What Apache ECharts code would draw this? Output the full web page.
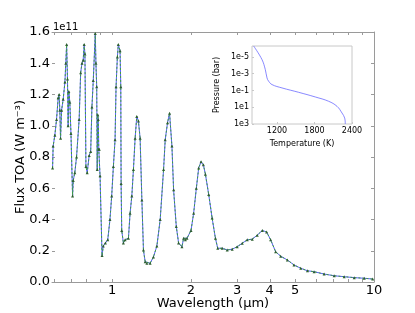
<!DOCTYPE html>
<html><head><meta charset="utf-8">
<script src="https://cdn.jsdelivr.net/npm/echarts@6/dist/echarts.min.js"></script>
<style>html,body{margin:0;padding:0;background:#fff}#c{width:415px;height:313px}</style>
</head><body><div id="c"></div>
<script>
// Main spectrum: wavelength (micron) and top-of-atmosphere flux (units of 1e11 W m^-3)
const wavelength = [0.593,0.596,0.605,0.614,0.623,0.628,0.632,0.636,0.642,0.651,0.661,0.666,0.671,0.676,0.680,0.684,0.690,0.697,0.707,0.711,0.721,0.732,0.749,0.759,0.768,0.776,0.783,0.788,0.795,0.804,0.818,0.829,0.838,0.848,0.863,0.868,0.874,0.878,0.882,0.886,0.890,0.894,0.900,0.916,0.926,0.943,0.963,0.982,0.997,1.012,1.027,1.036,1.048,1.057,1.073,1.080,1.083,1.089,1.105,1.122,1.155,1.172,1.190,1.207,1.225,1.243,1.261,1.280,1.300,1.318,1.338,1.358,1.398,1.439,1.483,1.527,1.573,1.596,1.629,1.658,1.693,1.718,1.759,1.795,1.849,1.876,1.905,1.933,2.002,2.049,2.098,2.142,2.187,2.232,2.272,2.339,2.410,2.481,2.532,2.633,2.751,2.875,3.005,3.141,3.282,3.429,3.584,3.746,3.891,4.031,4.212,4.403,4.670,4.951,5.253,5.572,5.906,6.451,7.045,7.695,8.404,9.181,9.885];
const fluxTOA = [0.73,0.87,0.94,1.04,1.18,1.20,1.10,0.92,1.10,1.17,1.28,1.40,1.52,1.30,1.00,1.22,1.15,0.95,0.55,0.65,0.70,0.80,1.04,1.34,1.40,1.42,1.52,1.46,0.74,0.70,0.81,0.835,1.12,1.29,1.59,1.40,1.25,0.72,1.07,1.04,0.85,0.85,0.68,0.17,0.23,0.25,0.27,0.40,0.55,0.74,0.91,1.25,1.44,1.52,1.48,1.25,0.63,0.33,0.25,0.27,0.28,0.44,0.55,0.72,0.92,1.06,1.03,0.92,0.525,0.205,0.13,0.12,0.12,0.16,0.23,0.40,0.72,0.91,1.02,1.08,0.87,0.59,0.355,0.25,0.226,0.28,0.27,0.28,0.33,0.44,0.60,0.73,0.77,0.75,0.69,0.56,0.41,0.28,0.216,0.216,0.205,0.21,0.226,0.248,0.27,0.274,0.30,0.33,0.32,0.27,0.194,0.165,0.141,0.109,0.088,0.072,0.066,0.051,0.040,0.034,0.028,0.024,0.019];
const xLabelValues = [1,2,3,4,5,10];
const xTickValues = [0.6,0.7,0.8,0.9,1,2,3,4,5,6,7,8,9,10];
const yTickLabels = ['0.0','0.2','0.4','0.6','0.8','1.0','1.2','1.4','1.6'];

// Inset: temperature-pressure profile
const temperature = [826,960,1013,1040,1066,1120,1280,1546,1813,2026,2160,2240,2282,2293];
const pressure = [5e-7,2.1e-5,3.3e-4,3.2e-3,7.9e-3,2e-2,5e-2,0.166,0.6,1.95,7.8,49,190,1000];
const insetXTicks = [1200,1800,2400];
const insetYTicks = [1e-5,1e-3,1e-1,1e1,1e3];

const lg = Math.log10;
const specData = wavelength.map((w,i)=>[lg(w), fluxTOA[i]]);
const tpData = temperature.map((t,i)=>[t, lg(pressure[i])]);
const F = 'DejaVu Sans';
const axisGrey = '#9a9a9a';
const insetGrey = '#c8c8c8';

const chart = echarts.init(document.getElementById('c'), null, {renderer:'canvas'});
chart.setOption({
  animation:false,
  backgroundColor:'#fff',
  textStyle:{fontFamily:F},
  grid:[
    {left:52,right:41,top:32,bottom:31,show:false,containLabel:false,outerBoundsMode:'none'},
    {left:252,right:63,top:46,bottom:189,show:true,backgroundColor:'#fff',borderColor:insetGrey,borderWidth:1,z:5,containLabel:false,outerBoundsMode:'none'}
  ],
  xAxis:[
    {type:'value',gridIndex:0,min:lg(0.59),max:1,position:'bottom',
     name:'Wavelength (μm)',nameLocation:'middle',nameGap:15,nameMoveOverlap:false,
     nameTextStyle:{fontSize:13,color:'#000',fontFamily:F},
     axisLine:{show:true,onZero:false,lineStyle:{color:axisGrey,width:1}},
     axisTick:{show:true,inside:true,length:3,lineStyle:{color:axisGrey},customValues:xTickValues.map(lg)},
     axisLabel:{show:true,fontSize:13,color:'#000',margin:2,fontFamily:F,customValues:xLabelValues.map(lg),
       formatter:v=>String(Math.round(Math.pow(10,v)))},
     splitLine:{show:false}},
    {type:'value',gridIndex:0,min:lg(0.59),max:1,position:'top',
     axisLine:{show:true,onZero:false,lineStyle:{color:axisGrey,width:1}},
     axisTick:{show:true,inside:true,length:3,lineStyle:{color:axisGrey},customValues:xTickValues.map(lg)},
     axisLabel:{show:false},splitLine:{show:false}},
    {type:'value',gridIndex:1,min:800,max:2400,
     name:'Temperature (K)',nameLocation:'middle',nameGap:16,nameMoveOverlap:false,
     nameTextStyle:{fontSize:8,color:'#000',fontFamily:F},
     axisLine:{show:false,onZero:false},
     axisTick:{show:true,inside:true,length:2,lineStyle:{color:insetGrey},customValues:insetXTicks},
     axisLabel:{show:true,fontSize:8,color:'#000',margin:3,fontFamily:F,customValues:insetXTicks,
       formatter:v=>String(Math.round(v))},
     splitLine:{show:false},z:6}
  ],
  yAxis:[
    {type:'value',gridIndex:0,min:0,max:1.6,interval:0.2,position:'left',
     name:'Flux TOA (W m⁻³)',nameLocation:'middle',nameGap:25,nameRotate:90,nameMoveOverlap:false,
     nameTextStyle:{fontSize:13,color:'#000',fontFamily:F},
     axisLine:{show:false,onZero:false},
     axisTick:{show:true,inside:true,length:3,lineStyle:{color:axisGrey}},
     axisLabel:{show:true,fontSize:13,color:'#000',margin:2,fontFamily:F,
       formatter:(v)=>yTickLabels[Math.round(v/0.2)]},
     splitLine:{show:false}},
    {type:'value',gridIndex:0,min:0,max:1.6,interval:0.2,position:'right',
     axisLine:{show:true,onZero:false,lineStyle:{color:axisGrey,width:1}},
     axisTick:{show:true,inside:true,length:3,lineStyle:{color:axisGrey}},
     axisLabel:{show:false},splitLine:{show:false}},
    {type:'value',gridIndex:1,min:-6.3,max:3,inverse:true,
     name:'Pressure (bar)',nameLocation:'middle',nameGap:31,nameRotate:90,nameMoveOverlap:false,
     nameTextStyle:{fontSize:8,color:'#000',fontFamily:F},
     axisLine:{show:false,onZero:false},
     axisTick:{show:true,inside:true,length:2,lineStyle:{color:insetGrey},customValues:insetYTicks.map(lg)},
     axisLabel:{show:true,fontSize:8,color:'#000',margin:3,fontFamily:F,customValues:insetYTicks.map(lg),
       formatter:v=>'1e'+Math.round(v)},
     splitLine:{show:false},z:6}
  ],
  graphic:[
    {type:'text',left:53,top:22,style:{text:'1e11',fontSize:10,fontFamily:F,fill:'#000'}}
  ],
  series:[
    {type:'line',xAxisIndex:0,yAxisIndex:0,data:specData,showSymbol:false,
     lineStyle:{color:'#5a5aff',width:1},z:2},
    {type:'line',xAxisIndex:0,yAxisIndex:0,data:specData,showSymbol:true,showAllSymbol:true,
     symbol:'triangle',symbolSize:3,itemStyle:{color:'#2f5f2f'},
     lineStyle:{color:'#3ca03c',width:1,type:[2,2]},z:3},
    {type:'line',xAxisIndex:2,yAxisIndex:2,data:tpData,showSymbol:false,smooth:0.4,
     lineStyle:{color:'#6b6bff',width:0.8},z:7}
  ]
});
</script></body></html>
